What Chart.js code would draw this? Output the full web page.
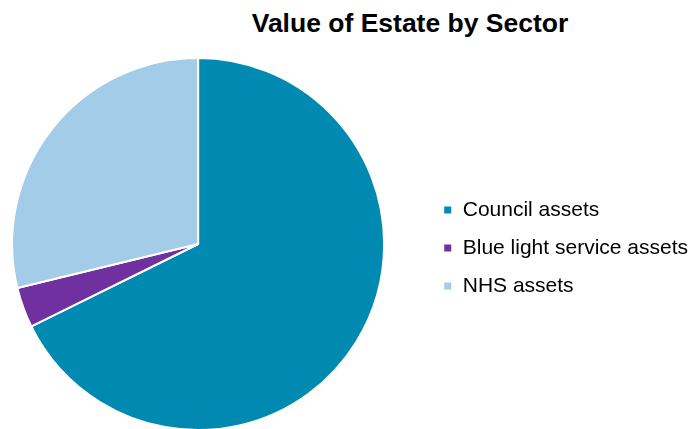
<!DOCTYPE html>
<html>
<head>
<meta charset="utf-8">
<script src="https://cdn.jsdelivr.net/npm/chart.js@4.4.0/dist/chart.umd.min.js"></script>
<style>
    html, body { margin: 0; padding: 0; background: #fff; overflow: hidden; }
    body { width: 692px; height: 429px; position: relative; }
    #title {
        position: absolute; left: 210px; top: 8px; width: 400px;
        text-align: center; font: bold 26.5px "Liberation Sans", Arial, sans-serif; color: #000;
    }
    #chartBox { position: absolute; left: -30px; top: 0; width: 728px; height: 431px; }
</style>
</head>
<body>
<div id="title">Value of Estate by Sector</div>
<div id="chartBox"><canvas id="estateChart"></canvas></div>
<script>
// --- DATA ---
const sectors = ["Council assets", "Blue light service assets", "NHS assets"];
const sectorShare = [67.7, 3.5, 28.8];
const sectorColours = ["#0089B1", "#7030A0", "#A2CCE7"];

document.addEventListener("DOMContentLoaded", () => {
    const ctx = document.getElementById("estateChart").getContext("2d");
    new Chart(ctx, {
        type: "pie",
        data: {
            labels: sectors,
            datasets: [{
                data: sectorShare,
                backgroundColor: sectorColours,
                borderColor: "#ffffff",
                borderWidth: 2
            }]
        },
        options: {
            responsive: true,
            maintainAspectRatio: false,
            animation: false,
            layout: { padding: { top: 57, right: 0, bottom: 0, left: 0 } },
            plugins: {
                title: { display: false },
                tooltip: { enabled: false },
                legend: {
                    position: "right",
                    align: "center",
                    // empty title only nudges the items down a few px
                    title: { display: true, text: " ", font: { size: 1 }, padding: { top: 3, bottom: 4 } },
                    labels: {
                        boxWidth: 9,
                        boxHeight: 9,
                        padding: 17,
                        color: "#000",
                        font: { family: "'Liberation Sans', Arial, sans-serif", size: 21 }
                    }
                }
            }
        }
    });
});
</script>
</body>
</html>
